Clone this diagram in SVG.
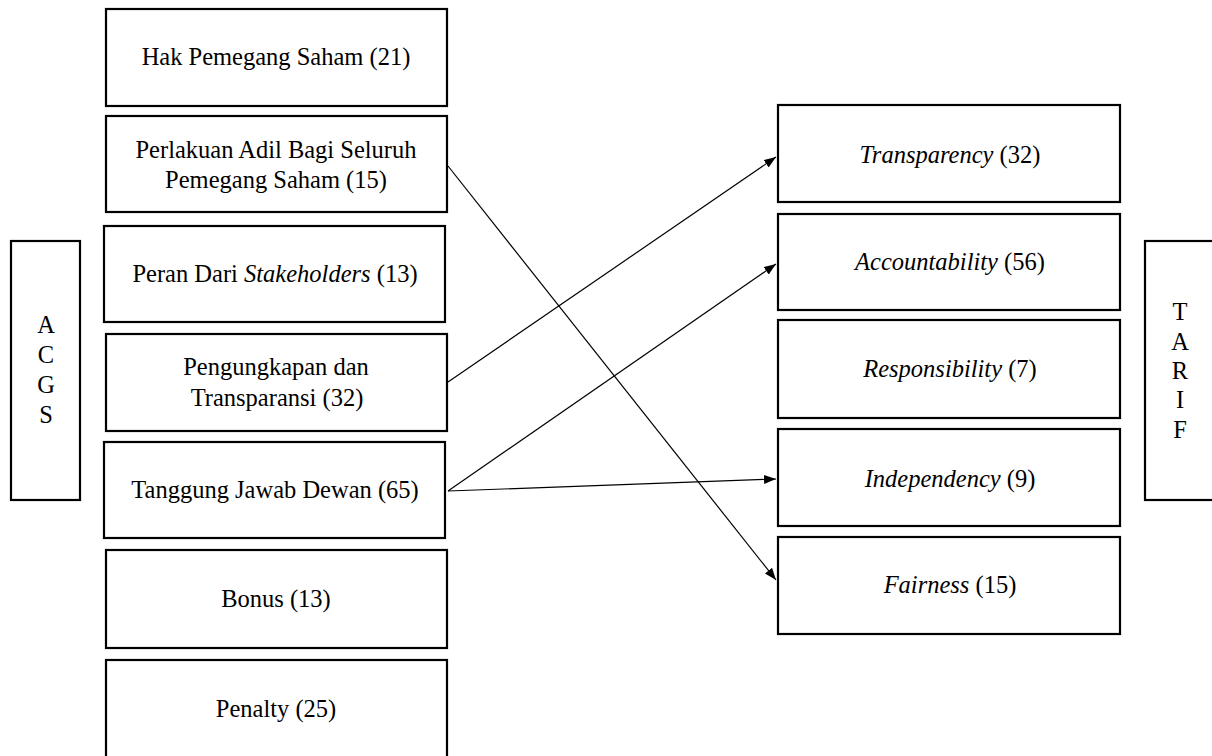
<svg xmlns="http://www.w3.org/2000/svg" width="1212" height="756" viewBox="0 0 1212 756">
<style>
.box{fill:#fff;stroke:#000;stroke-width:2.2}
.t{font-family:"Liberation Serif","Times New Roman",serif;font-size:24.5px;fill:#000;text-anchor:middle}
.i{font-style:italic}
.c{stroke:#000;stroke-width:1.2;fill:none}
</style>
<defs>
<marker id="arr" markerUnits="userSpaceOnUse" markerWidth="13" markerHeight="10" refX="12" refY="4.5" orient="auto">
<path d="M0,0 L12,4.5 L0,9 z" fill="#000"/>
</marker>
</defs>
<rect width="1212" height="756" fill="#fff"/>
<g id="acgs"><rect class="box" x="11" y="241" width="69" height="259"/>
<text class="t" x="46" y="333">A</text><text class="t" x="46" y="363">C</text><text class="t" x="46" y="393">G</text><text class="t" x="46" y="423">S</text></g>
<g id="tarif"><rect class="box" x="1145" y="241" width="72" height="259"/>
<text class="t" x="1180" y="320">T</text><text class="t" x="1180" y="350">A</text><text class="t" x="1180" y="379">R</text><text class="t" x="1180" y="408">I</text><text class="t" x="1180" y="438">F</text></g>
<g id="hak"><rect class="box" x="106" y="9" width="341" height="97"/><text class="t" x="276" y="65">Hak Pemegang Saham (21)</text></g>
<g id="perlakuan"><rect class="box" x="106" y="116" width="341" height="96"/><text class="t" x="276" y="158">Perlakuan Adil Bagi Seluruh</text><text class="t" x="276" y="188">Pemegang Saham (15)</text></g>
<g id="peran"><rect class="box" x="104" y="226" width="341" height="96"/><text class="t" x="275" y="282">Peran Dari <tspan class="i">Stakeholders</tspan> (13)</text></g>
<g id="pengungkapan"><rect class="box" x="106" y="334" width="341" height="97"/><text class="t" x="276" y="375">Pengungkapan dan</text><text class="t" x="277" y="406">Transparansi  (32)</text></g>
<g id="tanggung"><rect class="box" x="104" y="442" width="341" height="96"/><text class="t" x="275" y="498">Tanggung Jawab Dewan (65)</text></g>
<g id="bonus"><rect class="box" x="106" y="550" width="341" height="98"/><text class="t" x="276" y="607">Bonus (13)</text></g>
<g id="penalty"><rect class="box" x="106" y="660" width="341" height="100"/><text class="t" x="276" y="717">Penalty (25)</text></g>
<g id="transparency"><rect class="box" x="778" y="105" width="342" height="97"/><text class="t" x="950" y="163"><tspan class="i">Transparency</tspan> (32)</text></g>
<g id="accountability"><rect class="box" x="778" y="214" width="342" height="96"/><text class="t" x="950" y="270"><tspan class="i">Accountability</tspan> (56)</text></g>
<g id="responsibility"><rect class="box" x="778" y="320" width="342" height="98"/><text class="t" x="950" y="377"><tspan class="i">Responsibility</tspan> (7)</text></g>
<g id="independency"><rect class="box" x="778" y="429" width="342" height="97"/><text class="t" x="950" y="487"><tspan class="i">Independency</tspan> (9)</text></g>
<g id="fairness"><rect class="box" x="778" y="537" width="342" height="97"/><text class="t" x="950" y="593"><tspan class="i">Fairness</tspan> (15)</text></g>
<g id="connectors">
<line class="c" x1="448" y1="166" x2="776" y2="580" marker-end="url(#arr)"/>
<line class="c" x1="448" y1="382" x2="776" y2="157" marker-end="url(#arr)"/>
<line class="c" x1="448" y1="491" x2="776" y2="264" marker-end="url(#arr)"/>
<line class="c" x1="448" y1="491" x2="776" y2="479" marker-end="url(#arr)"/>
</g>
</svg>
